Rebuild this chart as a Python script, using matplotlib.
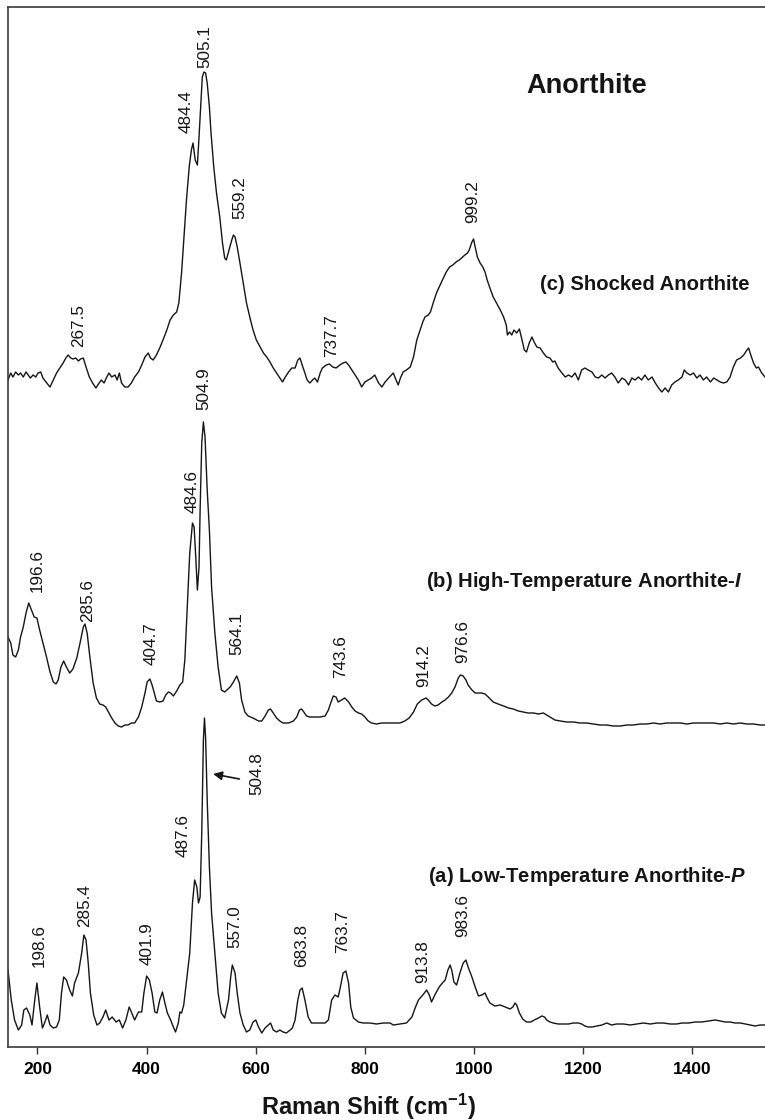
import matplotlib
matplotlib.use("Agg")
import matplotlib.pyplot as plt

plt.rcParams.update({
    "font.family": "Liberation Sans",
    "mathtext.fontset": "custom",
    "mathtext.rm": "Liberation Sans",
    "mathtext.it": "Liberation Sans:italic:bold",
    "mathtext.bf": "Liberation Sans:bold",
})

# ---------------------------------------------------------------------------
# Raman spectra: (Raman shift in cm-1, intensity in arbitrary units above
# each trace's own baseline)
# ---------------------------------------------------------------------------
spectrum_a = [  # (a) low-temperature anorthite-P
    (146, 55), (152, 25), (158, 5), (165, -5), (171, 0), (175, 15), (180, 17), (186, 10),
    (190, 0), (195, 25), (199, 42), (204, 18), (209, -3), (213, 2), (218, 10), (223, 0),
    (229, -3), (235, -2), (240, 5), (244, 32), (248, 48), (253, 45), (259, 35), (264, 29),
    (268, 42), (275, 52), (281, 72), (285, 90), (289, 85), (293, 62), (297, 32), (303, 10),
    (309, 0), (314, 2), (320, 8), (325, 15), (331, 5), (337, 8), (344, 3), (350, 5),
    (356, -3), (362, 5), (368, 18), (372, 13), (378, 5), (385, 13), (391, 13), (395, 32),
    (400, 49), (405, 45), (410, 32), (415, 13), (419, 12), (424, 25), (429, 33), (433, 23),
    (438, 12), (444, 5), (449, -2), (453, -7), (458, 2), (461, 13), (464, 12), (468, 20),
    (474, 48), (479, 72), (484, 122), (488, 145), (492, 138), (495, 122), (498, 128),
    (501, 192), (504, 285), (506, 307), (508, 288), (511, 225), (515, 158), (519, 112),
    (525, 72), (531, 32), (537, 12), (543, 7), (550, 25), (554, 48), (557, 60), (562, 52),
    (566, 32), (571, 12), (577, 0), (583, -7), (589, -5), (595, 3), (600, 5), (605, -2),
    (611, -8), (617, -3), (623, 0), (627, 2), (632, -5), (638, -7), (644, -5), (650, -7),
    (656, -8), (663, -5), (667, -3), (672, 5), (677, 25), (681, 35), (685, 37), (690, 25),
    (696, 8), (702, 2), (711, 2), (721, 2), (727, 2), (733, 5), (739, 25), (745, 30),
    (751, 28), (755, 38), (760, 52), (765, 54), (770, 42), (774, 18), (779, 7), (788, 3),
    (797, 2), (809, 2), (821, 1), (834, 2), (846, 2), (852, 0), (864, 1), (876, 2),
    (886, 8), (892, 17), (898, 25), (906, 30), (913, 35), (918, 30), (922, 23), (928, 30),
    (936, 38), (942, 42), (947, 45), (952, 55), (956, 60), (959, 55), (963, 43), (968, 40),
    (974, 52), (980, 62), (985, 65), (989, 58), (996, 48), (1002, 38), (1008, 29),
    (1014, 30), (1020, 32), (1024, 27), (1029, 22), (1038, 19), (1048, 20), (1057, 18),
    (1066, 16), (1071, 18), (1075, 22), (1078, 20), (1083, 12), (1089, 6), (1096, 3),
    (1104, 3), (1110, 5), (1118, 7), (1124, 9), (1129, 8), (1133, 5), (1139, 3), (1145, 2),
    (1154, 1), (1164, 1), (1173, 1), (1182, 2), (1191, 2), (1197, 1), (1203, -1),
    (1209, -2), (1216, -2), (1225, -1), (1234, 0), (1243, 2), (1252, 0), (1261, 1),
    (1274, 1), (1286, 0), (1298, 1), (1310, 2), (1323, 1), (1335, 2), (1347, 2), (1359, 1),
    (1371, 1), (1381, 2), (1393, 2), (1405, 3), (1417, 3), (1429, 4), (1442, 5), (1451, 4),
    (1460, 3), (1469, 3), (1478, 2), (1488, 2), (1497, 1), (1506, 0), (1515, -1),
    (1524, 0), (1533, 0),
]

spectrum_b = [  # (b) high-temperature anorthite-I
    (146, 86), (151, 80), (155, 68), (160, 66), (165, 73), (169, 86), (174, 96), (179, 110),
    (184, 120), (189, 113), (194, 106), (199, 105), (204, 93), (210, 80), (217, 65),
    (223, 51), (229, 41), (234, 39), (238, 43), (243, 56), (248, 62), (253, 56), (259, 50),
    (265, 54), (272, 65), (278, 80), (284, 96), (287, 99), (291, 90), (296, 66), (302, 40),
    (308, 25), (314, 19), (320, 18), (325, 16), (330, 11), (336, 5), (342, 0), (348, -3),
    (354, -4), (360, -2), (366, -2), (372, 0), (378, 0), (385, 6), (391, 16), (397, 30),
    (401, 41), (406, 44), (410, 38), (414, 30), (418, 22), (424, 21), (430, 22), (435, 28),
    (440, 31), (444, 30), (449, 27), (455, 32), (461, 38), (466, 41), (470, 63), (474, 110),
    (479, 170), (484, 200), (487, 196), (490, 166), (493, 133), (496, 156), (498, 213),
    (501, 280), (504, 301), (507, 286), (511, 233), (515, 193), (519, 136), (525, 90),
    (531, 56), (537, 33), (543, 31), (553, 36), (559, 41), (565, 47), (570, 40), (574, 23),
    (580, 11), (586, 7), (595, 5), (605, 2), (611, 2), (617, 7), (623, 13), (627, 14),
    (632, 10), (638, 5), (644, 2), (650, 0), (660, 0), (669, 2), (675, 6), (680, 13),
    (684, 14), (688, 11), (693, 7), (699, 6), (708, 6), (718, 6), (727, 7), (733, 13),
    (738, 21), (742, 27), (747, 26), (751, 21), (757, 23), (763, 25), (770, 21), (776, 16),
    (782, 12), (788, 10), (794, 9), (800, 6), (806, 2), (812, 0), (821, -1), (831, 0),
    (840, 0), (846, 0), (852, 0), (864, 0), (873, 2), (881, 5), (889, 11), (896, 19),
    (904, 23), (912, 25), (916, 23), (922, 19), (928, 17), (934, 18), (941, 21), (947, 23),
    (953, 26), (959, 30), (965, 36), (971, 45), (975, 48), (980, 47), (985, 43), (989, 38),
    (996, 33), (1002, 30), (1008, 30), (1014, 30), (1020, 29), (1026, 26), (1035, 21),
    (1044, 19), (1054, 17), (1063, 15), (1072, 14), (1081, 12), (1090, 11), (1099, 10),
    (1109, 10), (1118, 9), (1127, 10), (1133, 8), (1139, 6), (1148, 3), (1158, 2),
    (1170, 1), (1182, 1), (1194, 0), (1206, 0), (1219, -1), (1231, -2), (1243, -2),
    (1255, -3), (1268, -3), (1280, -2), (1292, -2), (1304, -1), (1316, -1), (1329, 0),
    (1341, -1), (1353, 0), (1365, 0), (1378, 0), (1390, -1), (1402, 0), (1414, 0),
    (1426, 0), (1439, 0), (1451, -1), (1463, 0), (1475, -1), (1488, 0), (1500, -1),
    (1512, -1), (1524, -2), (1533, -2),
]

spectrum_c = [  # (c) shocked anorthite
    (146, -2), (151, 5), (155, 1), (160, 6), (165, 3), (169, 5), (174, 1), (179, 6),
    (183, 3), (187, 0), (192, 3), (197, 1), (201, 5), (206, 6), (210, 0), (217, -5),
    (223, -9), (229, -2), (235, 5), (241, 10), (247, 15), (252, 20), (256, 23), (261, 20),
    (265, 19), (270, 20), (275, 17), (279, 19), (284, 20), (289, 11), (295, 1), (301, -5),
    (307, -10), (313, -5), (317, -2), (322, -5), (327, 1), (331, 5), (336, 1), (342, 3),
    (346, -2), (350, 5), (354, -5), (360, -9), (366, -9), (372, -5), (378, 1), (385, 6),
    (391, 13), (397, 21), (403, 25), (407, 20), (412, 18), (418, 23), (424, 30), (430, 38),
    (437, 48), (443, 58), (449, 63), (455, 66), (459, 75), (464, 105), (468, 138),
    (473, 178), (478, 211), (482, 228), (485, 235), (489, 218), (493, 213), (496, 241),
    (499, 271), (502, 301), (505, 306), (508, 305), (511, 295), (515, 271), (518, 245),
    (523, 211), (528, 185), (534, 161), (539, 135), (543, 120), (546, 118), (551, 128),
    (556, 138), (559, 143), (562, 141), (566, 131), (571, 115), (577, 95), (583, 75),
    (589, 61), (595, 48), (601, 38), (608, 31), (614, 25), (620, 21), (626, 16), (632, 10),
    (638, 5), (644, 0), (649, -4), (653, 0), (660, 6), (666, 10), (672, 10), (677, 18),
    (681, 20), (685, 13), (690, 5), (694, -2), (699, -5), (704, -2), (708, 0), (713, -4),
    (718, 5), (722, 10), (729, 13), (735, 14), (741, 11), (747, 10), (754, 13), (760, 15),
    (765, 16), (770, 13), (776, 8), (782, 3), (788, -2), (794, -9), (800, -4), (806, -2),
    (812, 0), (818, 3), (825, -5), (831, -9), (837, -4), (845, 1), (852, 5), (857, -2),
    (861, -7), (865, 0), (870, 6), (876, 8), (883, 11), (889, 21), (895, 38), (901, 48),
    (906, 56), (910, 61), (916, 63), (920, 66), (925, 75), (931, 85), (936, 91), (942, 98),
    (949, 106), (955, 111), (961, 113), (967, 116), (973, 118), (979, 121), (983, 123),
    (988, 125), (991, 128), (996, 136), (999, 139), (1002, 131), (1006, 121), (1011, 115),
    (1016, 111), (1020, 106), (1024, 98), (1029, 90), (1035, 81), (1041, 75), (1048, 68),
    (1054, 61), (1059, 53), (1061, 43), (1065, 46), (1069, 43), (1073, 48), (1078, 45),
    (1083, 49), (1087, 40), (1092, 28), (1096, 26), (1101, 35), (1106, 41), (1110, 36),
    (1115, 31), (1121, 30), (1127, 25), (1133, 21), (1139, 20), (1144, 16), (1148, 17),
    (1154, 10), (1161, 5), (1167, 1), (1173, 3), (1179, 1), (1185, 5), (1191, -2),
    (1197, 8), (1203, 10), (1209, 8), (1216, 6), (1222, 1), (1228, 0), (1234, 3),
    (1240, 0), (1246, 3), (1252, 5), (1258, 1), (1264, -5), (1271, 0), (1277, -2),
    (1283, -7), (1289, 0), (1295, -2), (1301, 1), (1307, -2), (1313, 3), (1319, -2),
    (1326, 1), (1332, -5), (1338, -10), (1344, -14), (1350, -10), (1356, -14), (1362, -7),
    (1368, -4), (1374, -2), (1381, 1), (1385, 8), (1390, 5), (1396, 3), (1402, 5),
    (1408, 0), (1414, 3), (1420, -2), (1426, 1), (1433, -4), (1439, 0), (1445, -2),
    (1451, -4), (1457, -5), (1463, -4), (1469, 1), (1475, 11), (1481, 18), (1488, 20),
    (1494, 23), (1500, 28), (1503, 30), (1507, 23), (1512, 15), (1517, 10), (1521, 11),
    (1527, 5), (1533, 1),
]

# Peak assignments (cm-1) printed next to each trace
peaks_a = ["198.6", "285.4", "401.9", "487.6", "557.0", "683.8", "763.7", "913.8", "983.6"]
peaks_b = ["196.6", "285.6", "404.7", "484.6", "504.9", "564.1", "743.6", "914.2", "976.6"]
peaks_c = ["267.5", "484.4", "505.1", "559.2", "737.7", "999.2"]
arrow_peak_a = "504.8"

trace_names = [
    "(a) Low-Temperature Anorthite-$P$",
    r"(b) High-Temperature Anorthite-$I$",
    "(c) Shocked Anorthite",
]
title_text = "Anorthite"
x_ticks = [200, 400, 600, 800, 1000, 1200, 1400]

# ---------------------------------------------------------------------------
# Layout: vertical stacking of the traces and placement of the annotations
# ---------------------------------------------------------------------------
stack_offset = {"a": 22, "b": 324, "c": 669}

label_pos_a = [(203, 80), (287, 120), (400, 82), (466, 190), (562, 99),
               (684, 80), (759, 94), (906, 64), (979, 110)]
label_pos_b = [(200, 455), (291, 425), (409, 382), (484, 534), (505, 637),
               (566, 392), (755, 369), (908, 360), (979, 384)]
label_pos_c = [(276, 700), (472, 914), (507, 979), (570, 828), (739, 690), (998, 824)]
arrow_label_pos = (601, 252)
arrow_tail = (570, 268)
arrow_head = (522, 273)
name_pos = [(1498, 165), (1491, 460), (1504, 757)]
title_pos = (1206, 954)

fig = plt.figure(figsize=(7.65, 11.2), dpi=100)
ax = fig.add_axes([8 / 765, 1 - 1047 / 1120, 757 / 765, 1040 / 1120])

line_kw = dict(color="#151515", lw=1.0, solid_joinstyle="round")
for key, spec in (("a", spectrum_a), ("b", spectrum_b), ("c", spectrum_c)):
    shift = [p[0] for p in spec]
    inten = [p[1] + stack_offset[key] for p in spec]
    ax.plot(shift, inten, **line_kw)

peak_kw = dict(rotation=90, ha="center", va="bottom", fontsize=12.3, color="#151515")
for names, positions in ((peaks_a, label_pos_a), (peaks_b, label_pos_b), (peaks_c, label_pos_c)):
    for s, (x, y) in zip(names, positions):
        ax.text(x, y, s, **peak_kw)

ax.text(*arrow_label_pos, arrow_peak_a, **peak_kw)
ax.annotate("", xy=arrow_head, xytext=arrow_tail,
            arrowprops=dict(arrowstyle="-|>", color="#151515", lw=1.2,
                            mutation_scale=13, shrinkA=0, shrinkB=0))

for s, (x, y) in zip(trace_names, name_pos):
    ax.text(x, y, s, ha="right", va="baseline", fontsize=14.6, fontweight="bold",
            color="#151515")

ax.text(*title_pos, title_text, ha="center", va="baseline", fontsize=19.5,
        fontweight="bold", color="#151515")

ax.set_xlim(146, 1533)
ax.set_ylim(0, 1040)
ax.set_xticks(x_ticks)
ax.set_xticklabels([str(t) for t in x_ticks], fontsize=12.5, fontweight="bold")
ax.set_yticks([])
ax.tick_params(axis="x", direction="out", length=5, width=1.0, pad=6, color="#333333")
for side in ("left", "bottom", "top"):
    ax.spines[side].set_color("#3a3a3a")
    ax.spines[side].set_linewidth(1.2)
ax.spines["right"].set_visible(False)

fig.text(0.4816, 0.005, r"Raman Shift (cm$^{\mathbf{-1}}$)", ha="center", va="baseline",
         fontsize=17, fontweight="bold", color="#151515")

fig.savefig("out.png", dpi=100, facecolor="white")
